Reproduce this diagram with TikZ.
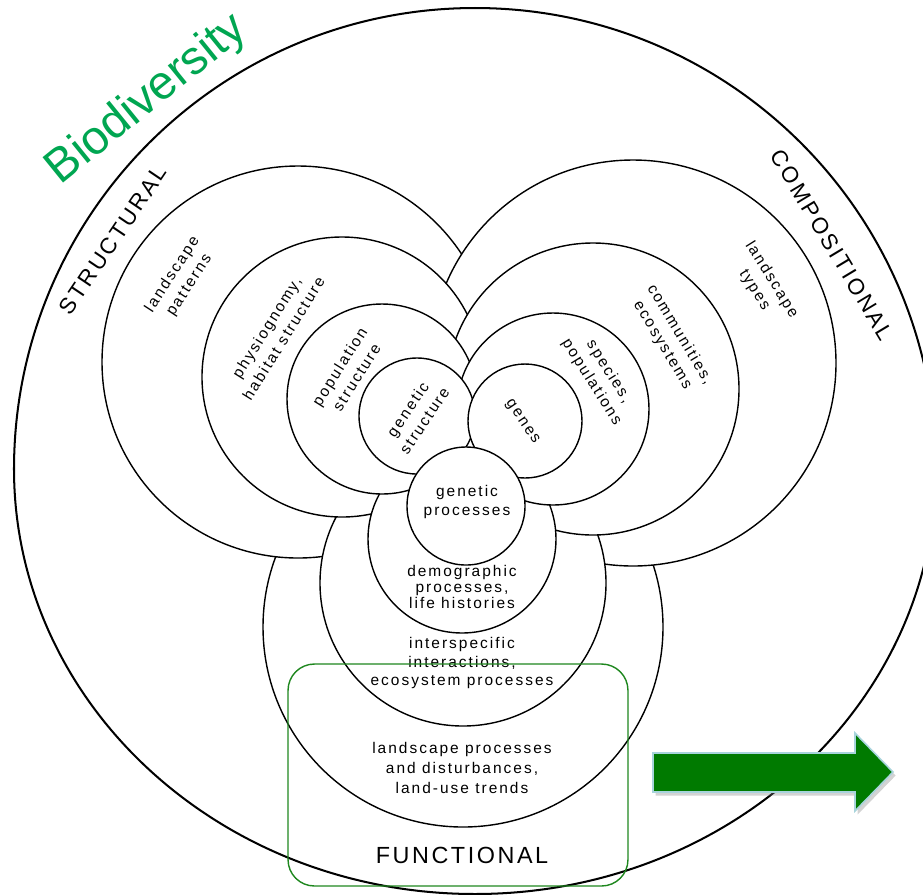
\documentclass[tikz,border=0pt]{standalone}
\usepackage{fontspec}
\setmainfont{Liberation Sans}
\newfontfamily\lettering[LetterSpace=13]{Liberation Sans}
\newfontfamily\capsfont[LetterSpace=11]{Liberation Sans}
\usetikzlibrary{shadows}
\definecolor{biogreen}{RGB}{0,166,81}
\definecolor{boxgreen}{RGB}{30,135,30}
\definecolor{arrowgreen}{RGB}{0,122,0}
\definecolor{arrowrim}{RGB}{168,212,220}

\begin{document}
\begin{tikzpicture}[
  x=0.02cm, y=0.02cm,
  bubble/.style={draw=black, fill=white, line width=0.8pt},
  rim/.style={draw=black, line width=1.15pt},
  lbl/.style={font=\lettering\fontsize{8.8}{10.6}\selectfont, align=center,
              inner sep=0pt},
  rlbl/.style={lbl, font=\lettering\fontsize{8.8}{11.4}\selectfont},
  ttl/.style={font=\capsfont\fontsize{12.8}{14}\selectfont, inner sep=0pt},
  bigtitle/.style={font=\fontsize{27}{30}\selectfont, text=biogreen,
                   inner sep=0pt},
  greenbox/.style={draw=boxgreen, line width=0.8pt, rounded corners=15pt},
  bigarrow/.style={fill=arrowgreen, draw=arrowrim, line width=0.9pt,
                   drop shadow={shadow xshift=1.5pt, shadow yshift=-2pt,
                                opacity=0.35}}
]
\useasboundingbox (0,0) rectangle (923,-894);

% ---------------------------------------------- the whole of biodiversity
\draw[rim] (14,-469) arc[start angle=180, end angle=0, radius=461]
  arc[start angle=0, end angle=-180, x radius=461, y radius=425] -- cycle;

% ---------------------------------------------- nested bubbles, back to front
\draw[bubble] (463,-627) circle[radius=200];   % landscape processes
\draw[bubble] (298,-362) circle[radius=196];   % landscape patterns
\draw[bubble] (633,-363) circle[radius=203];   % landscape types
\draw[bubble] (463,-583) circle[radius=143];   % interspecific interactions
\draw[bubble] (342,-377) circle[radius=140];   % physiognomy
\draw[bubble] (593,-389) circle[radius=146];   % communities
\draw[bubble] (462,-539) circle[radius=94];    % demographic processes
\draw[bubble] (382,-399) circle[radius=95];    % population structure
\draw[bubble] (553,-409) circle[radius=96];    % species
\draw[bubble] (417,-416) circle[radius=58];    % genetic structure
\draw[bubble] (525,-421) circle[radius=57];    % genes
\draw[bubble] (466,-506) circle[radius=59];    % genetic processes

% ---------------------------------------------- structural side
\node[rlbl, rotate=57] (lpat) at (181,-280) {landscape\\patterns};
\node[rlbl, rotate=58] (phys) at (275,-333) {physiognomy,\\habitat structure};
\node[rlbl, rotate=58] (popst) at (348,-372) {population\\structure};
\node[rlbl, rotate=56] (genst) at (416,-415) {genetic\\structure};

% ---------------------------------------------- compositional side
\node[rlbl, rotate=-58] (ltyp) at (763,-285) {landscape\\types};
\node[rlbl, rotate=-59] (comm) at (671,-340) {communities,\\ecosystems};
\node[rlbl, rotate=-58] (spec) at (600,-377) {species,\\populations};
\node[rlbl, rotate=-56] (genes) at (522,-422) {genes};

% ---------------------------------------------- functional side
\node[lbl, font=\lettering\fontsize{8.8}{10.8}\selectfont] (genpr)
  at (467,-502) {genetic\\processes};
\node[lbl, font=\lettering\fontsize{8.8}{8.9}\selectfont] (demo)
  at (462,-587) {demographic\\processes,\\life histories};
\node[lbl] (inter) at (462,-663)
  {interspecific\\interactions,\\ecosystem processes};
\node[lbl, font=\lettering\fontsize{8.8}{11.6}\selectfont] (lproc)
  at (462,-768) {landscape processes\\and disturbances,\\land-use trends};

% ---------------------------------------------- the three headings
\node[ttl, rotate=56] (struct) at (113,-240) {STRUCTURAL};
\node[ttl, rotate=-59] (compo) at (832,-245) {COMPOSITIONAL};
\node[ttl, font=\capsfont\fontsize{13.3}{15}\selectfont] (func)
  at (462,-855) {FUNCTIONAL};
\node[bigtitle, rotate=39] (bio) at (147,-100) {Biodiversity};

% ---------------------------------------------- highlight
\node[greenbox, minimum width=6.8cm, minimum height=4.44cm] (funcbox)
  at (458,-775) {};
\path[bigarrow] (653,-753) -- (855,-753) -- (855,-733) -- (893,-772)
  -- (855,-811) -- (855,-792) -- (653,-792) -- cycle;

\end{tikzpicture}
\end{document}
